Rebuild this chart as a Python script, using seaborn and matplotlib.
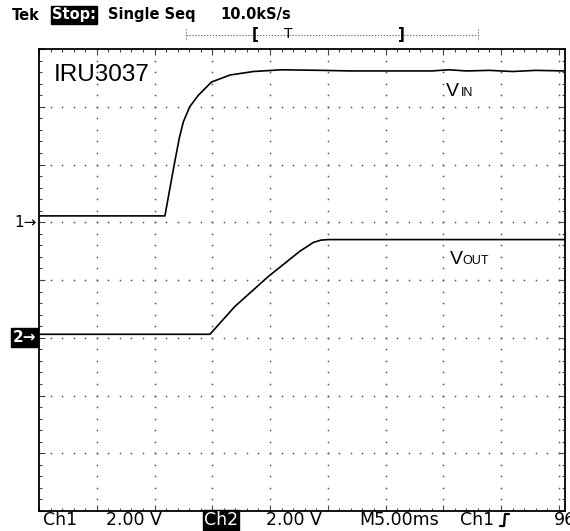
import numpy as np
import matplotlib
matplotlib.use("Agg")
import matplotlib.pyplot as plt
from matplotlib.ticker import MultipleLocator
import seaborn as sns

# trace data, in graticule divisions (x: 5 ms/div, y: 2 V/div)
vin_x = [0, 2.18, 2.26, 2.34, 2.43, 2.50, 2.61, 2.76, 2.99, 3.31, 3.71, 4.20,
         4.90, 5.40, 6.20, 6.80, 7.10, 7.40, 7.80, 8.20, 8.60, 9.11]
vin_y = [5.11, 5.11, 5.55, 5.99, 6.46, 6.74, 7.00, 7.20, 7.43, 7.55, 7.61, 7.64,
         7.63, 7.62, 7.62, 7.62, 7.64, 7.62, 7.63, 7.61, 7.63, 7.62]
vout_x = [0, 2.96, 3.39, 3.97, 4.52, 4.75, 4.88, 5.01, 9.11]
vout_y = [3.06, 3.06, 3.54, 4.06, 4.50, 4.65, 4.69, 4.70, 4.70]

trace_names = ["IN", "OUT"]
ch_markers = ["1", "2"]
ch_offsets = [5, 3]

top_status = ["Tek", "Stop:", "Single Seq", "10.0kS/s"]
bottom_status = ["Ch1", "2.00 V", "Ch2", "2.00 V", "M5.00ms", "Ch1", "96"]

W, H = 570, 531
sns.set_style("white")
plt.rcParams["font.family"] = ["DejaVu Sans"]
plt.rcParams["text.color"] = "black"

fig = plt.figure(figsize=(W / 100, H / 100), dpi=100)
fig.patch.set_facecolor("white")


def px(x, y):
    return x / W, 1 - y / H


# graticule: left 39, right 565, top 49, bottom 511 (px)
ax = fig.add_axes([39 / W, 1 - 511 / H, (565 - 39) / W, (511 - 49) / H])
xmax = (565 - 39) / 57.75
ax.set_xlim(0, xmax)
ax.set_ylim(0, 8)

# dotted graticule
minor = np.arange(0, 8.01, 0.2)
for k in range(1, 10):
    ax.plot(np.full_like(minor, k), minor, ls="none", marker="s", ms=1.1,
            mew=0, color="#555555")
minor_x = np.arange(0, xmax, 0.2)
for k in range(1, 8):
    ax.plot(minor_x, np.full_like(minor_x, k), ls="none", marker="s", ms=1.1,
            mew=0, color="#555555")

for s in ax.spines.values():
    s.set_color("black")
    s.set_linewidth(1.3)
ax.xaxis.set_minor_locator(MultipleLocator(0.2))
ax.yaxis.set_minor_locator(MultipleLocator(0.2))
ax.xaxis.set_major_locator(MultipleLocator(1))
ax.yaxis.set_major_locator(MultipleLocator(1))
ax.tick_params(which="both", direction="in", top=True, right=True,
               bottom=True, left=True, labelbottom=False, labelleft=False,
               color="#444444", width=0.8)
ax.tick_params(which="minor", length=2.5)
ax.tick_params(which="major", length=4)

sns.lineplot(x=vin_x, y=vin_y, ax=ax, color="black", lw=1.2, sort=False,
             estimator=None)
sns.lineplot(x=vout_x, y=vout_y, ax=ax, color="black", lw=1.2, sort=False,
             estimator=None)

# labels inside the screen
fig.text(*px(54, 75), "IRU3037", fontsize=17.5, family="Liberation Sans",
         va="center", ha="left")
fig.text(*px(446, 96), "V", fontsize=14, family="Liberation Sans",
         va="baseline")
fig.text(*px(461, 96), trace_names[0], fontsize=9, family="Liberation Sans",
         va="baseline")
fig.text(*px(450, 263.5), "V", fontsize=14, family="Liberation Sans",
         va="baseline")
fig.text(*px(462.5, 263.5), trace_names[1], fontsize=9,
         family="Liberation Sans", va="baseline")

# channel ground markers
ax.annotate(ch_markers[0] + "→", xy=(0, ch_offsets[0]), xycoords="data",
            xytext=(-1.5, 0), textcoords="offset points", ha="right",
            va="center", fontsize=11, annotation_clip=False)
ax.annotate(ch_markers[1] + "→", xy=(0, ch_offsets[1]), xycoords="data",
            xytext=(-2, 0), textcoords="offset points", ha="right",
            va="center", fontsize=11, color="white", fontweight="bold",
            annotation_clip=False,
            bbox=dict(boxstyle="square,pad=0.12", fc="black", ec="black"))

# top status line
fs_top = 10.5
fig.text(*px(12, 15), top_status[0], fontsize=fs_top, fontweight="bold",
         va="center")
fig.text(*px(52, 15), top_status[1], fontsize=fs_top, fontweight="bold",
         va="center", color="white",
         bbox=dict(boxstyle="square,pad=0.08", fc="black", ec="black"))
fig.text(*px(108, 15), top_status[2], fontsize=fs_top, fontweight="bold",
         va="center")
fig.text(*px(220, 15), top_status[3], fontsize=fs_top, fontweight="bold",
         va="center")

# record view bar
bar = fig.add_axes([0, 0, 1, 1], facecolor="none")
bar.set_xlim(0, W)
bar.set_ylim(H, 0)
bar.axis("off")
bar.plot([186, 478], [35, 35], ls=":", lw=0.8, color="#555555")
bar.plot([186, 186], [29, 41], ls=":", lw=0.8, color="#555555")
bar.plot([478, 478], [29, 41], ls=":", lw=0.8, color="#555555")
bar.text(255, 35, "[", fontsize=11, fontweight="bold", ha="center", va="center")
bar.text(288, 34, "T", fontsize=10, ha="center", va="center")
bar.text(401, 35, "]", fontsize=11, fontweight="bold", ha="center", va="center")

# bottom status line
ys = 520
fig.text(*px(43, ys), bottom_status[0], fontsize=12.5, va="center")
fig.text(*px(106, ys), bottom_status[1], fontsize=12.5, va="center")
fig.text(*px(204, ys), bottom_status[2], fontsize=12.5, va="center",
         color="white", bbox=dict(boxstyle="square,pad=0.05", fc="black",
                                  ec="black"))
fig.text(*px(266, ys), bottom_status[3], fontsize=12.5, va="center")
fig.text(*px(359, ys), bottom_status[4], fontsize=12.5, va="center")
fig.text(*px(460, ys), bottom_status[5], fontsize=12.5, va="center")
bar.plot([500, 504, 505, 509], [526, 526, 514, 514], color="black", lw=1.6)
fig.text(*px(554, ys), bottom_status[6], fontsize=12.5, va="center")

fig.savefig("out.png", dpi=100, facecolor="white")
